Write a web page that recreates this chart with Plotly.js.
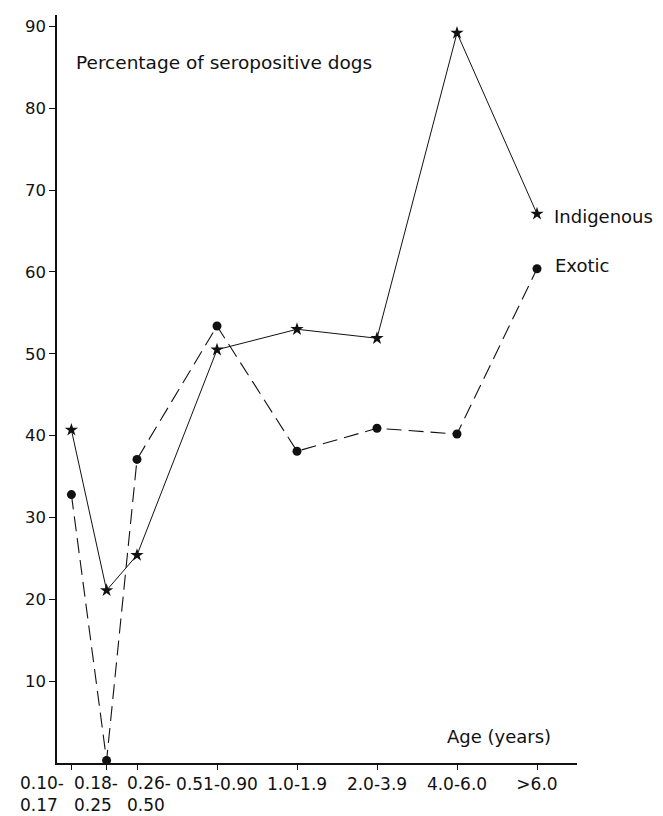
<!DOCTYPE html>
<html>
<head>
<meta charset="utf-8">
<script src="https://cdn.plot.ly/plotly-3.0.1.min.js"></script>
<style>html,body{margin:0;padding:0;background:#fff;}#chart{width:663px;height:816px;}</style>
</head>
<body>
<div id="chart"></div>
<script>
// Age groups (years)
const ageGroups = ['0.10-0.17', '0.18-0.25', '0.26-0.50', '0.51-0.90', '1.0-1.9', '2.0-3.9', '4.0-6.0', '>6.0'];
// Positions of the age groups on the (unevenly spaced) age axis
const agePositions = [1.18, 1.62, 2.0, 3.0, 4.0, 5.0, 6.0, 7.0];
// Tick labels shown under the axis (first three are two-line, drawn as annotations)
const tickLabels = ['', '', '', '0.51-0.90', '1.0-1.9', '2.0-3.9', '4.0-6.0', '>6.0'];
const twoLineLabels = ['0.10-<br>0.17', '0.18-<br>0.25', '0.26-<br>0.50'];
// Percentage of seropositive dogs
const indigenous = [40.7, 21.1, 25.4, 50.5, 53.0, 51.9, 89.2, 67.1];
const exotic = [32.8, 0.3, 37.1, 53.4, 38.1, 40.9, 40.2, 60.4];
const yTicks = [10, 20, 30, 40, 50, 60, 70, 80, 90];

const FONT = 'DejaVu Sans, Liberation Sans, Arial, sans-serif';

const traces = [
  {
    x: agePositions, y: indigenous, name: 'Indigenous', type: 'scatter', mode: 'lines+markers',
    line: {color: '#111', width: 1},
    marker: {symbol: 'star', size: 10, color: '#111'},
    cliponaxis: false
  },
  {
    x: agePositions, y: exotic, name: 'Exotic', type: 'scatter', mode: 'lines+markers',
    line: {color: '#111', width: 1.1, dash: '15px,7px'},
    marker: {symbol: 'circle', size: 9, color: '#111'},
    cliponaxis: false
  }
];

const annotations = [
  {text: 'Percentage of seropositive dogs', xref: 'paper', yref: 'paper', x: 0.033, y: 0.936,
   xanchor: 'left', yanchor: 'middle', showarrow: false, font: {family: FONT, size: 18.5, color: '#111'}},
  {text: 'Age (years)', xref: 'paper', yref: 'paper', x: 0.953, y: 0.035,
   xanchor: 'right', yanchor: 'middle', showarrow: false, font: {family: FONT, size: 18, color: '#111'}},
  {text: 'Indigenous', xref: 'x', yref: 'y', x: agePositions[7], y: indigenous[7] - 0.3,
   xanchor: 'left', yanchor: 'middle', xshift: 15, showarrow: false, font: {family: FONT, size: 18, color: '#111'}},
  {text: 'Exotic', xref: 'x', yref: 'y', x: agePositions[7], y: exotic[7] + 0.4,
   xanchor: 'left', yanchor: 'middle', xshift: 16, showarrow: false, font: {family: FONT, size: 18, color: '#111'}}
];
const twoLineLeft = [-0.075, 0.028, 0.130];
twoLineLabels.forEach((t, i) => {
  annotations.push({text: t, xref: 'paper', yref: 'paper', x: twoLineLeft[i], y: -0.011,
    xanchor: 'left', yanchor: 'top', align: 'left', showarrow: false,
    font: {family: FONT, size: 17, color: '#111'}});
});

const layout = {
  width: 663, height: 816,
  margin: {l: 57, r: 86, t: 15, b: 53},
  paper_bgcolor: '#fff', plot_bgcolor: '#fff',
  showlegend: false,
  font: {family: FONT, size: 16, color: '#111'},
  xaxis: {
    range: [1, 7.5], tickmode: 'array', tickvals: agePositions, ticktext: tickLabels,
    showgrid: false, zeroline: false, showline: true, linecolor: '#111', linewidth: 1.5,
    ticks: 'outside', ticklen: 5, tickcolor: '#111', tickwidth: 1,
    tickfont: {family: FONT, size: 17, color: '#111'}, fixedrange: true
  },
  yaxis: {
    range: [0, 91.4], tickmode: 'array', tickvals: yTicks,
    showgrid: false, zeroline: false, showline: true, linecolor: '#111', linewidth: 1.8,
    ticks: 'outside', ticklen: 6, tickcolor: '#111', tickwidth: 1,
    tickfont: {family: FONT, size: 16.5, color: '#111'}, fixedrange: true
  },
  annotations: annotations
};

Plotly.newPlot('chart', traces, layout, {displayModeBar: false, staticPlot: true});
</script>
</body>
</html>
